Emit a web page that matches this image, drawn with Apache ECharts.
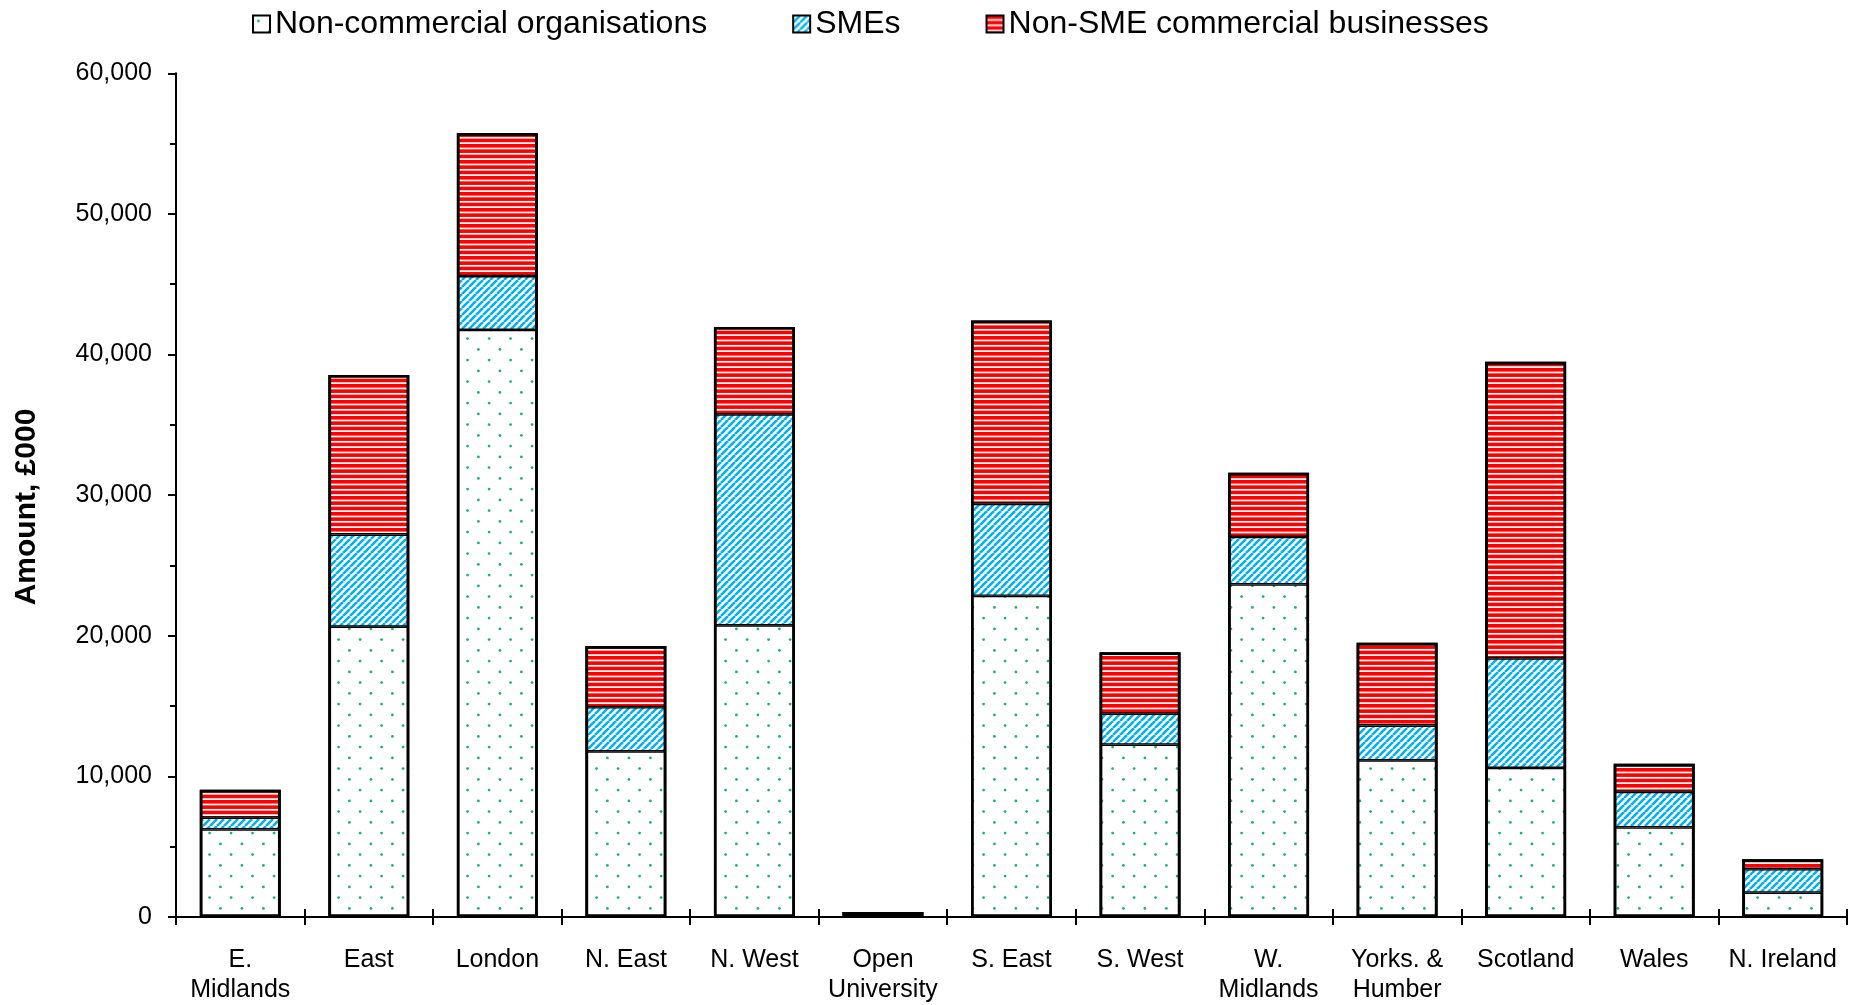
<!DOCTYPE html>
<html>
<head>
<meta charset="utf-8">
<script src="https://cdn.jsdelivr.net/npm/echarts@6/dist/echarts.min.js"></script>
<style>
html,body{margin:0;padding:0;background:#fff;}
#chart{width:1852px;height:1005px;}
</style>
</head>
<body>
<div id="chart"></div>
<script>
const categories = ['E.\nMidlands','East','London','N. East','N. West','Open\nUniversity','S. East','S. West','W.\nMidlands','Yorks. &\nHumber','Scotland','Wales','N. Ireland'];
const nonCommercial = [6230,20650,41750,11780,20740,300,22840,12260,23650,11140,10600,6370,1740];
const smes = [830,6550,3830,3140,15010,0,6550,2200,3380,2480,7800,2530,1660];
const nonSME = [1990,11350,10170,4350,6210,0,13030,4370,4560,5890,21080,1990,710];
const seriesNames = ['Non-commercial organisations','SMEs','Non-SME commercial businesses'];
const yTicks = {min:0, max:60000, interval:10000};
const yTitle = 'Amount, £000';

const FONT = '"Liberation Sans", Arial, sans-serif';

function makeCanvas(w, h, draw) {
  const c = document.createElement('canvas');
  c.width = w; c.height = h;
  const ctx = c.getContext('2d');
  ctx.fillStyle = '#ffffff';
  ctx.fillRect(0, 0, w, h);
  draw(ctx);
  return c;
}
const dotCanvas = makeCanvas(43, 43, ctx => {
  ctx.fillStyle = '#1DB463';
  const pts = [[5.4,5.4],[26.9,5.4],[16.1,16.1],[37.6,16.1],[5.4,26.9],[26.9,26.9],[16.1,37.6],[37.6,37.6]];
  pts.forEach(p => { ctx.beginPath(); ctx.arc(p[0], p[1], 1.4, 0, Math.PI*2); ctx.fill(); });
});
const diagCanvas = makeCanvas(7, 7, ctx => {
  ctx.strokeStyle = '#00B0F0';
  ctx.lineWidth = 2.6;
  [-7, 0, 7].forEach(k => { ctx.beginPath(); ctx.moveTo(k, 7); ctx.lineTo(k + 7, 0); ctx.stroke(); });
});
const stripeCanvas = makeCanvas(4, 16, ctx => {
  ctx.fillStyle = '#FF0000';
  [0, 16/3, 32/3].forEach(y => ctx.fillRect(0, y, 4, 3.6));
});

const patterns = [
  {image: dotCanvas, repeat: 'repeat'},
  {image: diagCanvas, repeat: 'repeat'},
  {image: stripeCanvas, repeat: 'repeat'}
];
const dataSets = [nonCommercial, smes, nonSME];
const totals = categories.map((_, i) => nonCommercial[i] + smes[i] + nonSME[i]);

const chart = echarts.init(document.getElementById('chart'), null, {renderer: 'canvas'});
const stackSeries = seriesNames.map((name, i) => ({
  name: name,
  type: 'bar',
  stack: 'total',
  xAxisIndex: 0,
  barCategoryGap: '37%',
  barGap: '-100%',
  data: dataSets[i],
  itemStyle: {color: patterns[i], borderColor: '#000', borderWidth: 1.4}
}));
const outlineSeries = {
  name: 'outline',
  type: 'bar',
  xAxisIndex: 0,
  barCategoryGap: '37%',
  barGap: '-100%',
  data: totals,
  silent: true,
  z: 3,
  itemStyle: {color: 'rgba(0,0,0,0)', borderColor: '#000', borderWidth: 2.8}
};
const option = {
  animation: false,
  backgroundColor: '#ffffff',
  legend: {
    data: seriesNames,
    left: 247,
    top: 3,
    itemWidth: 17,
    itemHeight: 17,
    itemGap: 85,
    icon: 'rect',
    textStyle: {fontSize: 32, color: '#000', fontFamily: FONT},
    itemStyle: {borderColor: '#000', borderWidth: 2}
  },
  grid: {left: 176, right: 5, top: 73.3, bottom: 85.5, containLabel: false},
  xAxis: [{
    type: 'category',
    data: categories,
    boundaryGap: true,
    axisLine: {show: true, lineStyle: {color: '#000', width: 2}},
    axisTick: {show: true, alignWithLabel: false, length: 8, lineStyle: {color: '#000', width: 2}},
    axisLabel: {interval: 0, fontSize: 25, color: '#000', fontFamily: FONT, margin: 28, lineHeight: 30}
  }, {
    type: 'category',
    data: categories,
    position: 'bottom',
    boundaryGap: true,
    axisLine: {show: false},
    axisTick: {show: true, inside: true, alignWithLabel: false, length: 8, lineStyle: {color: '#000', width: 2}},
    axisLabel: {show: false},
    splitLine: {show: false}
  }],
  yAxis: {
    type: 'value',
    min: yTicks.min, max: yTicks.max, interval: yTicks.interval,
    axisLine: {show: true, lineStyle: {color: '#000', width: 2}},
    axisTick: {show: true, length: 8, lineStyle: {color: '#000', width: 2}},
    minorTick: {show: true, splitNumber: 2, length: 6, lineStyle: {color: '#000', width: 2}},
    splitLine: {show: false},
    axisLabel: {fontSize: 25, color: '#000', fontFamily: FONT, margin: 24,
      formatter: v => v.toLocaleString('en-US')}
  },
  graphic: [{
    type: 'text',
    x: 27, y: 507,
    rotation: Math.PI / 2,
    style: {text: yTitle, fontSize: 30, fontWeight: 'bold', fontFamily: FONT, fill: '#000', align: 'center', verticalAlign: 'middle'}
  }],
  series: stackSeries.concat([outlineSeries])
};
chart.setOption(option);
</script>
</body>
</html>
